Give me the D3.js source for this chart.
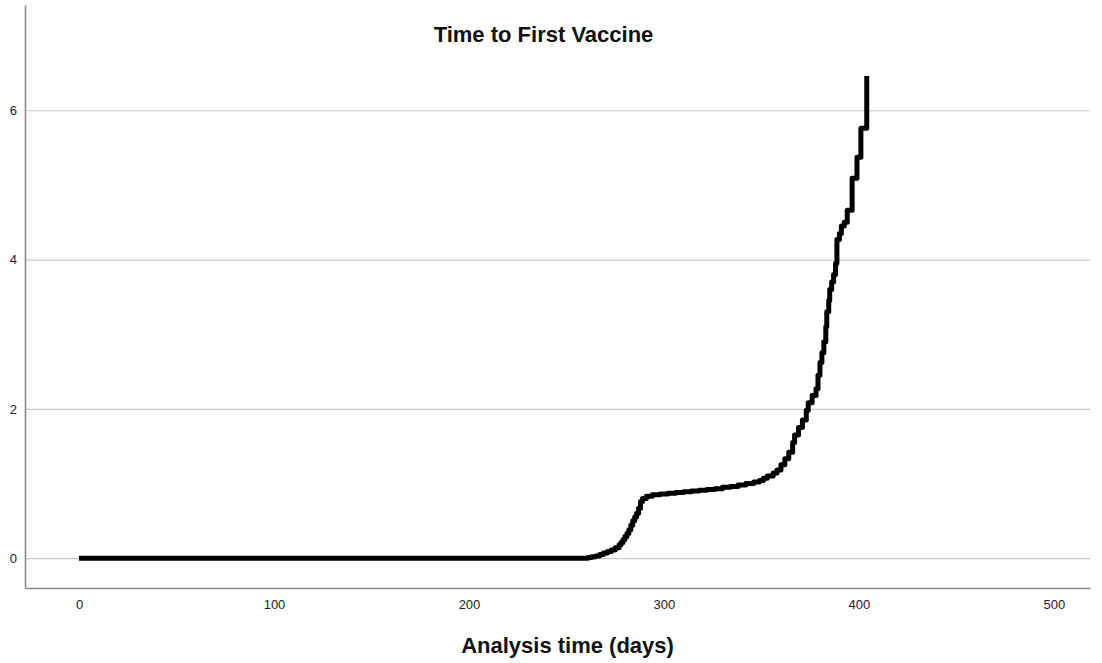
<!DOCTYPE html>
<html>
<head>
<meta charset="utf-8">
<script src="https://cdn.jsdelivr.net/npm/d3@7"></script>
<style>
  body { margin: 0; background: #fff; }
  svg { display: block; font-family: "Liberation Sans", Arial, sans-serif; }
</style>
</head>
<body>
<svg id="chart" width="1102" height="663"></svg>
<script>
// cumulative hazard: [analysis time, value]
const times = [0, 100, 200, 258, 261, 263, 265, 267, 269, 271, 273, 275, 277, 278, 279, 280, 281, 282, 283, 284, 285, 286, 287, 288,
  289, 291, 294, 298, 302, 306, 310, 314, 318, 322, 326, 330, 334, 338, 342, 346, 349, 351, 353, 356, 358,
  360, 362, 364, 366, 367, 369, 371, 373, 374, 376, 378, 379,
  380, 381, 382, 383, 383.5, 384.5, 385, 386, 387, 388, 388.7, 390, 391, 392.5, 394, 396.5, 399, 401, 404];
const hazard = [0, 0, 0, 0, 0.01, 0.02, 0.03, 0.05, 0.07, 0.09, 0.11, 0.14, 0.18, 0.21, 0.25, 0.29, 0.33, 0.38, 0.44, 0.5, 0.55, 0.6, 0.67, 0.76,
  0.8, 0.83, 0.85, 0.86, 0.87, 0.88, 0.89, 0.9, 0.91, 0.92, 0.93, 0.95, 0.96, 0.98, 1.0, 1.02, 1.04, 1.07, 1.1, 1.14, 1.18,
  1.25, 1.33, 1.42, 1.55, 1.65, 1.75, 1.85, 1.98, 2.08, 2.18, 2.27, 2.45,
  2.62, 2.75, 2.9, 3.1, 3.3, 3.45, 3.6, 3.7, 3.8, 3.95, 4.27, 4.35, 4.45, 4.5, 4.66, 5.09, 5.37, 5.76, 6.46];
const xTicks = [0, 100, 200, 300, 400, 500];
const yTicks = [0, 2, 4, 6];

const margin = { top: 5, right: 12, bottom: 75, left: 25 };
const outerWidth = 1102;
const outerHeight = 663;
const width = outerWidth - margin.left - margin.right;
const height = outerHeight - margin.top - margin.bottom;

const svg = d3.select('#chart');
const root = svg.append('g').attr('transform', `translate(${margin.left},${margin.top})`);

const xScale = d3.scaleLinear().domain([-27.7, 518.5]).range([0, width]);
const yScale = d3.scaleLinear().domain([-0.4, 7.41]).range([height, 0]);

// grid
root.append('g')
    .call(d3.axisLeft(yScale).tickValues(yTicks).tickSize(-width).tickFormat(''))
    .call(g => g.select('.domain').remove())
    .call(g => g.selectAll('line').attr('stroke', '#c8c8c8').attr('stroke-width', 1.2));

// axes
const xAxis = root.append('g').attr('transform', `translate(0,${height})`)
    .call(d3.axisBottom(xScale).tickValues(xTicks).tickSize(0).tickPadding(12).tickFormat(d3.format('d')));
const yAxis = root.append('g')
    .call(d3.axisLeft(yScale).tickValues(yTicks).tickSize(0).tickPadding(8));

[xAxis, yAxis].forEach(a => {
    a.select('.domain').attr('stroke', '#8a8a8a').attr('stroke-width', 1.6);
    a.selectAll('text').attr('font-size', 13).attr('fill', '#222')
        .attr('font-family', '"Liberation Sans", Arial, sans-serif');
});

const data = times.map((t, i) => ({ t, h: hazard[i] }));

const line = d3.line()
    .x(d => xScale(d.t))
    .y(d => yScale(d.h))
    .curve(d3.curveStepAfter);

root.append('path')
    .datum(data)
    .attr('fill', 'none')
    .attr('stroke', '#000')
    .attr('stroke-width', 5)
    .attr('stroke-linejoin', 'round')
    .attr('d', line);

svg.append('text')
    .attr('x', 543.5)
    .attr('y', 42)
    .attr('text-anchor', 'middle')
    .attr('font-size', 22)
    .attr('font-weight', 700)
    .attr('fill', '#111')
    .text('Time to First Vaccine');

svg.append('text')
    .attr('x', 567.5)
    .attr('y', 653)
    .attr('text-anchor', 'middle')
    .attr('font-size', 22)
    .attr('font-weight', 700)
    .attr('fill', '#111')
    .text('Analysis time (days)');
</script>
</body>
</html>
